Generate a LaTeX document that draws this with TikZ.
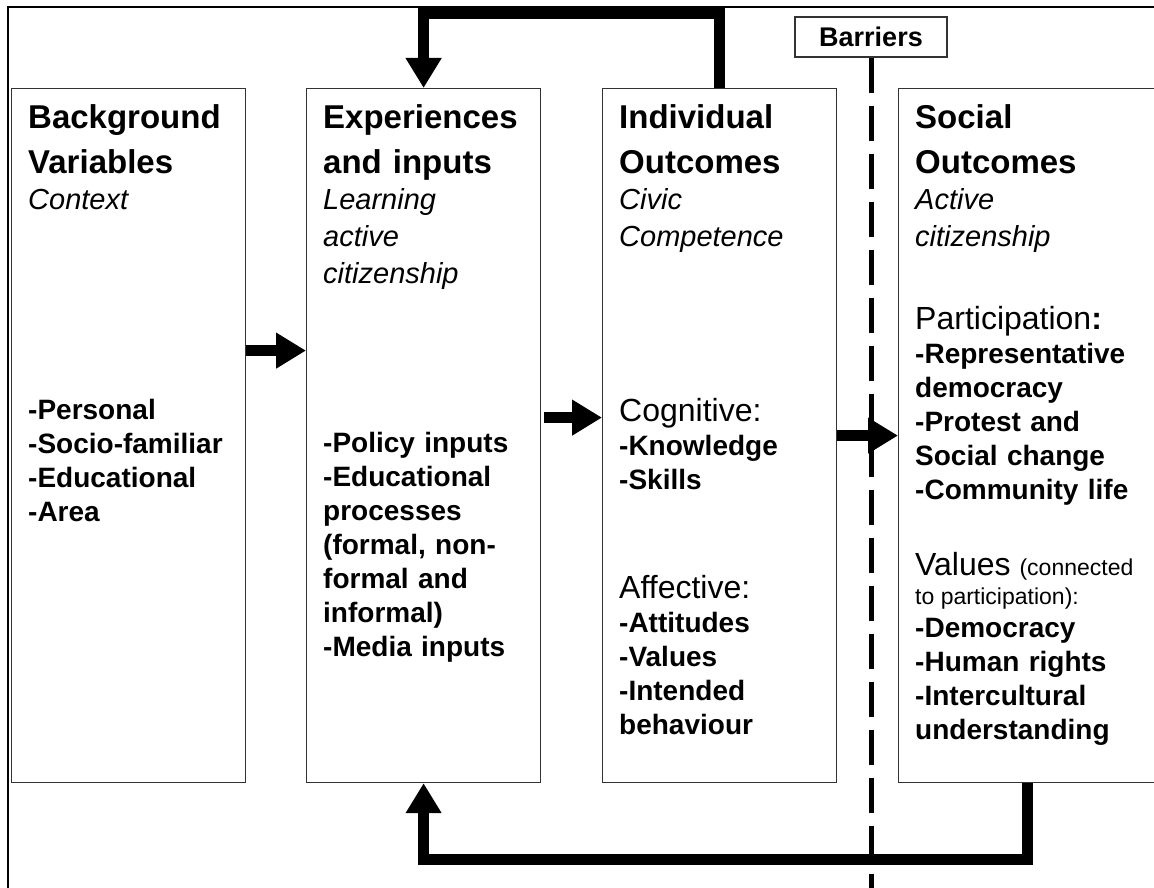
\documentclass[tikz,border=0pt]{standalone}
\usepackage{fontspec}
\setmainfont{Liberation Sans}
\usetikzlibrary{arrows.meta,positioning}

\begin{document}
\begin{tikzpicture}[x=1pt,y=-1pt,
    stage/.style={rectangle,draw=black!80,line width=1.2pt,minimum width=234pt,minimum height=694pt,anchor=north west,inner sep=0pt},
    heading/.style={anchor=base west,inner sep=0pt,text width=260pt,align=left,font=\fontsize{33}{44}\selectfont\bfseries},
    subhead/.style={anchor=base west,inner sep=0pt,text width=260pt,align=left,font=\fontsize{29}{37}\selectfont\itshape},
    items/.style={anchor=base west,inner sep=0pt,text width=260pt,align=left,font=\fontsize{28}{34}\selectfont\bfseries},
    cue/.style={anchor=base west,inner sep=0pt,font=\fontsize{32}{38}\selectfont},
    flow/.style={line width=11pt,-{Triangle[length=30pt,width=34pt]}},
    feedback/.style={flow,line join=miter},
    barrier/.style={line width=5pt,dash pattern=on 35pt off 13pt}
]
\path[use as bounding box] (0,0) rectangle (1154,888);

% outer frame (only top and left edge fall inside the page)
\draw[line width=2.5pt,line join=miter] (8,900) -- (8,7) -- (1170,7);

% the four stages
\node[stage] (b1) at (11,88) {};
\node[stage] (b2) at (306,88) {};
\node[stage] (b3) at (602,88) {};
\node[stage,minimum width=258pt] (b4) at (898,88) {};

% stage 1
\node[heading] (b1title) at ([shift={(17,41)}]b1.north west) {Background\\Variables};
\node[subhead] (b1sub) at ([shift={(17,121)}]b1.north west) {Context};
\node[items] (b1list) at ([shift={(17,331)}]b1.north west) {-Personal\\-Socio-familiar\\-Educational\\-Area};

% stage 2
\node[heading] (b2title) at ([shift={(17,41)}]b2.north west) {Experiences\\and inputs};
\node[subhead] (b2sub) at ([shift={(17,121)}]b2.north west) {Learning\\active\\citizenship};
\node[items] (b2list) at ([shift={(17,364)}]b2.north west) {-Policy inputs\\-Educational\\processes\\(formal, non-\\formal and\\informal)\\-Media inputs};

% stage 3
\node[heading] (b3title) at ([shift={(17,41)}]b3.north west) {Individual\\Outcomes};
\node[subhead] (b3sub) at ([shift={(17,121)}]b3.north west) {Civic\\Competence};
\node[cue] (cog) at ([shift={(17,333)}]b3.north west) {Cognitive:};
\node[items] (coglist) at ([shift={(17,367)}]b3.north west) {-Knowledge\\-Skills};
\node[cue] (aff) at ([shift={(17,510)}]b3.north west) {Affective:};
\node[items] (afflist) at ([shift={(17,544)}]b3.north west) {-Attitudes\\-Values\\-Intended\\behaviour};

% stage 4
\node[heading] (b4title) at ([shift={(17,41)}]b4.north west) {Social\\Outcomes};
\node[subhead] (b4sub) at ([shift={(17,121)}]b4.north west) {Active\\citizenship};
\node[cue] (part) at ([shift={(17,241)}]b4.north west) {Participation\textbf{:}};
\node[items] (partlist) at ([shift={(17,275)}]b4.north west) {-Representative\\democracy\\-Protest and\\Social change\\-Community life};
\node[cue] (val) at ([shift={(17,487)}]b4.north west) {Values {\fontsize{23}{28}\selectfont(connected}};
\node[cue,font=\fontsize{23}{28}\selectfont] (val2) at ([shift={(17,516)}]b4.north west) {to participation):};
\node[items] (vallist) at ([shift={(17,549)}]b4.north west) {-Democracy\\-Human rights\\-Intercultural\\understanding};

% barrier line
\node[draw=black!80,line width=1.2pt,minimum width=152pt,minimum height=40pt,inner sep=0pt,font=\fontsize{27}{32}\selectfont\bfseries] (barriers) at (871,37) {Barriers};
\draw[barrier] (barriers.south) -- ++(0,845);

% forward arrows
\draw[flow] ([yshift=85pt]b1.east) -- ([yshift=85pt]b2.west);
\draw[flow] ([shift={(3pt,18pt)}]b2.east) -- ([yshift=18pt]b3.west);
\draw[flow] (b3.east) -- (b4.west);

% feedback loops
\draw[feedback] (b3.north) -- ++(0,-74) -| (b2.north);
\draw[feedback] (b4.south) -- ++(0,76) -| (b2.south);
\end{tikzpicture}
\end{document}
